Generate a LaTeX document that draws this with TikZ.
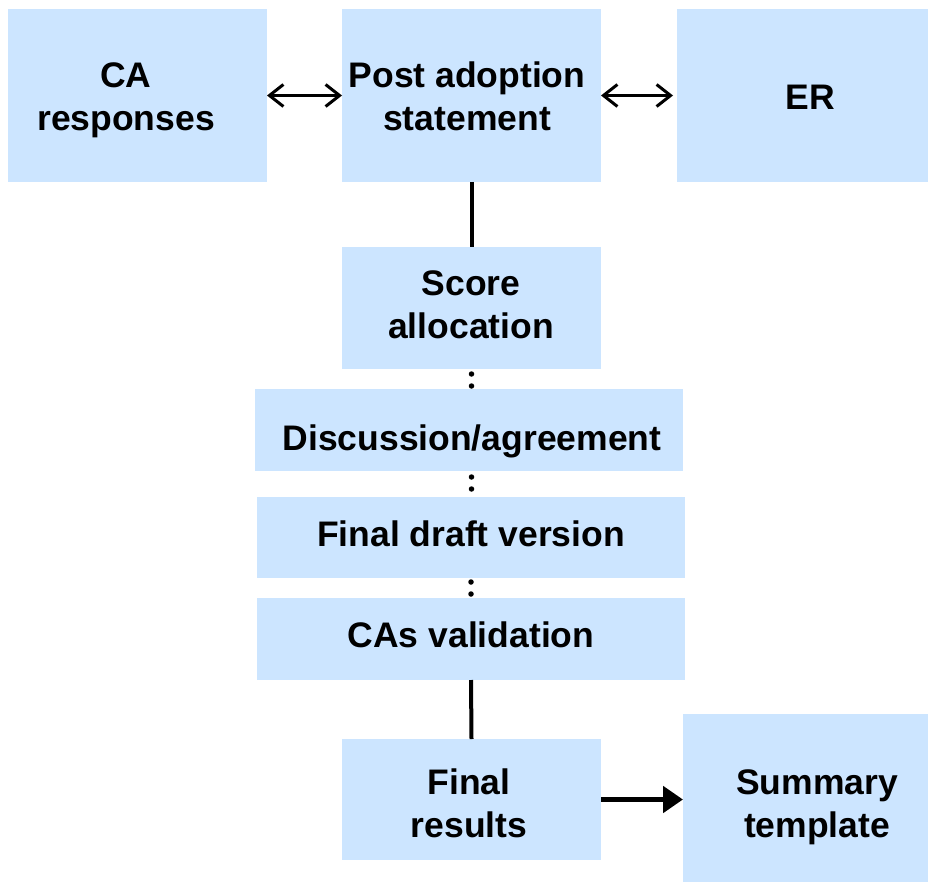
\documentclass[tikz,border=0pt]{standalone}
\usepackage{fontspec}
\setmainfont{Liberation Sans}
\usetikzlibrary{arrows.meta}
\definecolor{boxblue}{HTML}{CCE5FF}
\tikzset{
  box/.style={fill=boxblue, draw=none, inner sep=0pt, outer sep=0pt},
  txt/.style={font=\fontsize{35.5}{43}\selectfont\bfseries, align=center, anchor=base, inner sep=0pt},
  solidlink/.style={line width=4pt},
  dotlink/.style={line width=5.5pt, line cap=round, dash pattern=on 0pt off 12pt},
  twoway/.style={line width=3pt, {Straight Barb[length=14pt,width=22pt]}-{Straight Barb[length=14pt,width=22pt]}},
  oneway/.style={line width=5pt, -{Triangle[length=20pt,width=26pt]}}
}
\begin{document}
\begin{tikzpicture}[x=1pt,y=-1pt]
\useasboundingbox (0,0) rectangle (928,882);

% boxes
\node[box, minimum width=259pt, minimum height=173pt] (ca) at (137.5,95.5) {};
\node[box, minimum width=259pt, minimum height=173pt] (post) at (471.5,95.5) {};
\node[box, minimum width=251pt, minimum height=173pt] (er) at (802.5,95.5) {};
\node[box, minimum width=259pt, minimum height=122pt] (score) at (471.5,308) {};
\node[box, minimum width=428pt, minimum height=82pt] (disc) at (469,430) {};
\node[box, minimum width=428pt, minimum height=81pt] (draft) at (471,537.5) {};
\node[box, minimum width=428pt, minimum height=82pt] (valid) at (471,639) {};
\node[box, minimum width=259pt, minimum height=121pt] (res) at (471.5,799.5) {};
\node[box, minimum width=245pt, minimum height=168pt] (summ) at (805.5,798) {};

% labels (base anchor = baseline of the last line)
\node[txt] (tca) at (126,131) {CA\\responses};
\node[txt] (tpost) at (467,131) {Post adoption\\statement};
\node[txt] (ter) at (810,110) {ER};
\node[txt] (tscore) at (471,338) {Score\\allocation};
\node[txt] (tdisc) at (472,450) {Discussion/agreement};
\node[txt] (tdraft) at (471,546) {Final draft version};
\node[txt] (tvalid) at (471,647) {CAs validation};
\node[txt] (tres) at (469,837) {Final\\results};
\node[txt] (tsumm) at (817,837) {Summary\\template};

% connectors
\draw[twoway] (ca.east) -- (post.west);
\draw[twoway] (post.east) -- ([xshift=-4pt]er.west);
\draw[solidlink] (post.south) -- (score.north);
\draw[dotlink, shorten <=5pt] (score.south) -- (disc.north -| score.south);
\draw[dotlink, shorten <=6pt] (disc.south -| score.south) -- (draft.north -| score.south);
\draw[dotlink, shorten <=4pt] (draft.south) -- (valid.north);
\draw[solidlink] (valid.south) -- (res.north);
\draw[oneway] (res.east) -- (res.east -| summ.west);
\end{tikzpicture}
\end{document}
